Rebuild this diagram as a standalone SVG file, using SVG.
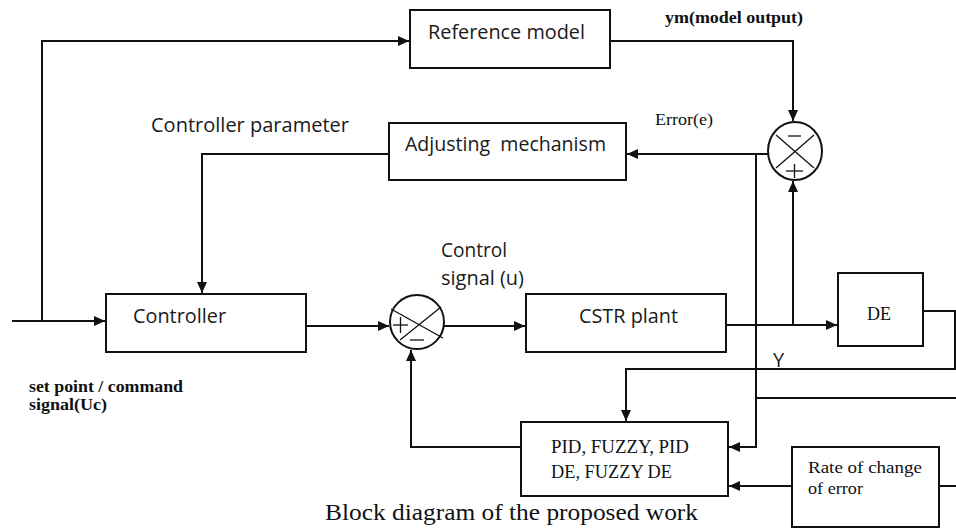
<svg xmlns="http://www.w3.org/2000/svg" width="956" height="529" viewBox="0 0 956 529">
  <defs>
    <marker id="arrow" markerUnits="userSpaceOnUse" markerWidth="12" markerHeight="10" refX="11" refY="5" orient="auto">
      <path d="M0,0 L11,5 L0,10 Z" fill="#111"/>
    </marker>
    <style>
      .box { fill: #fff; stroke: #111; stroke-width: 2; }
      .wire { fill: none; stroke: #111; stroke-width: 2; }
      .sum { fill: #fff; stroke: #111; stroke-width: 2; }
      .cross { stroke: #111; stroke-width: 1.3; }
      .sans { font-family: "Open Sans", "Liberation Sans", sans-serif; font-size: 20px; fill: #1a1a1a; }
      .serif { font-family: "Liberation Serif", "DejaVu Serif", serif; fill: #111; }
      .small { font-size: 16px; font-weight: bold; }
    </style>
  </defs>
  <rect width="956" height="529" fill="#fff"/>

  <!-- connectors -->
  <g id="connectors">
    <path class="wire" d="M12,321 H105" marker-end="url(#arrow)"/>
    <path class="wire" d="M42,321 V41 H409" marker-end="url(#arrow)"/>
    <path class="wire" d="M610,41 H793 V121" marker-end="url(#arrow)"/>
    <path class="wire" d="M768,154 H627" marker-end="url(#arrow)"/>
    <path class="wire" d="M756,154 V447 H729" marker-end="url(#arrow)"/>
    <path class="wire" d="M389,154 H202 V293" marker-end="url(#arrow)"/>
    <path class="wire" d="M306,326 H389" marker-end="url(#arrow)"/>
    <path class="wire" d="M444,326 H525" marker-end="url(#arrow)"/>
    <path class="wire" d="M726,325 H837" marker-end="url(#arrow)"/>
    <path class="wire" d="M793,325 V181" marker-end="url(#arrow)"/>
    <path class="wire" d="M923,311 H955 V369 H626 V421" marker-end="url(#arrow)"/>
    <path class="wire" d="M756,398 H956"/>
    <path class="wire" d="M792,486 H729" marker-end="url(#arrow)"/>
    <path class="wire" d="M939,486 H956"/>
    <path class="wire" d="M521,447 H411 V350" marker-end="url(#arrow)"/>
  </g>

  <!-- blocks -->
  <g id="reference-model">
    <rect class="box" x="410" y="10" width="200" height="58"/>
    <text class="sans" x="428" y="39" textLength="157" lengthAdjust="spacingAndGlyphs">Reference model</text>
  </g>

  <g id="adjusting-mechanism">
    <rect class="box" x="389" y="123" width="237" height="57"/>
    <text class="sans" x="405" y="151" textLength="201" lengthAdjust="spacingAndGlyphs" xml:space="preserve">Adjusting  mechanism</text>
  </g>

  <g id="controller">
    <rect class="box" x="106" y="294" width="200" height="58"/>
    <text class="sans" x="133" y="323" textLength="93" lengthAdjust="spacingAndGlyphs">Controller</text>
  </g>

  <g id="cstr-plant">
    <rect class="box" x="526" y="294" width="200" height="58"/>
    <text class="sans" x="579" y="323" textLength="99" lengthAdjust="spacingAndGlyphs">CSTR plant</text>
  </g>

  <g id="de">
    <rect class="box" x="838" y="273" width="85" height="73"/>
    <text class="serif" x="867" y="320" font-size="18" textLength="24" lengthAdjust="spacingAndGlyphs">DE</text>
  </g>

  <g id="tuner">
    <rect class="box" x="521" y="422" width="207" height="74"/>
    <text class="serif" x="551" y="453" font-size="19" textLength="138" lengthAdjust="spacingAndGlyphs">PID, FUZZY, PID</text>
    <text class="serif" x="551" y="478" font-size="19" textLength="121" lengthAdjust="spacingAndGlyphs">DE, FUZZY DE</text>
  </g>

  <g id="rate-of-change">
    <rect class="box" x="792" y="447" width="147" height="80"/>
    <text class="serif" x="808" y="473" font-size="17" textLength="114" lengthAdjust="spacingAndGlyphs">Rate of change</text>
    <text class="serif" x="808" y="494" font-size="17" textLength="55" lengthAdjust="spacingAndGlyphs">of error</text>
  </g>

  <!-- summing junctions -->
  <g id="sum-control">
    <circle class="sum" cx="417" cy="322" r="27"/>
    <line class="cross" x1="391" y1="309" x2="443" y2="338"/>
    <line class="cross" x1="400" y1="340" x2="441" y2="307"/>
    <line class="cross" x1="393" y1="325" x2="408" y2="325"/>
    <line class="cross" x1="400.5" y1="317" x2="400.5" y2="333"/>
    <line class="cross" x1="410" y1="340" x2="424" y2="340"/>
  </g>

  <g id="sum-error">
    <ellipse class="sum" cx="795" cy="151" rx="27" ry="29"/>
    <line class="cross" x1="776" y1="135" x2="814" y2="168"/>
    <line class="cross" x1="814" y1="135" x2="776" y2="168"/>
    <line class="cross" x1="788" y1="136" x2="801" y2="136" stroke-width="2"/>
    <line class="cross" x1="786" y1="171" x2="803" y2="171" stroke-width="2"/>
    <line class="cross" x1="794.5" y1="164" x2="794.5" y2="178" stroke-width="2"/>
  </g>

  <!-- signal labels -->
  <g id="labels">
    <text class="sans" x="151" y="132" textLength="198" lengthAdjust="spacingAndGlyphs">Controller parameter</text>
    <text class="sans" x="441" y="257" textLength="66" lengthAdjust="spacingAndGlyphs">Control</text>
    <text class="sans" x="441" y="285" textLength="83" lengthAdjust="spacingAndGlyphs">signal (u)</text>
    <text class="sans" x="773" y="367" font-size="18">Y</text>
    <text class="serif small" x="665" y="23" textLength="138" lengthAdjust="spacingAndGlyphs">ym(model output)</text>
    <text class="serif" x="655" y="125" font-size="16" textLength="58" lengthAdjust="spacingAndGlyphs">Error(e)</text>
    <text class="serif small" x="29" y="392" textLength="154" lengthAdjust="spacingAndGlyphs">set point / command</text>
    <text class="serif small" x="29" y="410" textLength="78" lengthAdjust="spacingAndGlyphs">signal(Uc)</text>
    <text class="serif" x="325" y="520" font-size="24" textLength="373" lengthAdjust="spacingAndGlyphs">Block diagram of the proposed work</text>
  </g>
</svg>
